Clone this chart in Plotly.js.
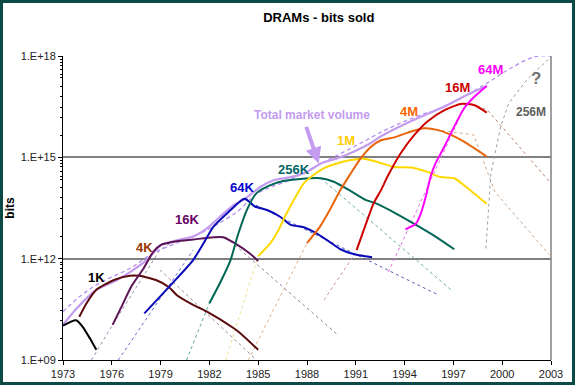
<!DOCTYPE html>
<html><head><meta charset="utf-8">
<script src="https://cdn.plot.ly/plotly-3.0.1.min.js"></script>
<style>
html,body{margin:0;padding:0;background:#fff;}
#frame{width:575px;height:385px;box-sizing:border-box;border:3px solid #0c4a46;background:#fff;}
#chart{width:569px;height:379px;}
</style></head>
<body><div id="frame"><div id="chart"></div></div>
<script>
// ---- data (years, bits sold) ----
const years1K  = [1973, 1973.8, 1974.2, 1974.65, 1975.05];
const bits1K   = [1.05e10, 1.5e10, 9.8e9, 4.4e9, 2.0e9];
const years4K  = [1974.0, 1974.45, 1975.05, 1976.1, 1977.1, 1977.7, 1978.75, 1979.5, 1980.0, 1981.0, 1981.85, 1983.5, 1983.9, 1985.0];
const bits4K   = [1.9e10, 4.8e10, 1.2e11, 2.3e11, 3.1e11, 3.1e11, 2.3e11, 1.45e11, 8.3e10, 4.3e10, 2.7e10, 8.7e9, 6.2e9, 2.0e9];
const years16K = [1976.05, 1976.6, 1977.2, 1977.95, 1978.55, 1979.05, 1980.0, 1981.0, 1982.25, 1982.85, 1983.7, 1984.5, 1985.0];
const bits16K  = [1.1e10, 3.8e10, 1.5e11, 5.1e11, 1.6e12, 2.6e12, 3.3e12, 3.7e12, 4.3e12, 4.3e12, 2.6e12, 1.4e12, 8.5e11];
const years64K = [1978.0, 1978.95, 1980.0, 1981.0, 1981.65, 1982.25, 1983.3, 1984.0, 1984.2, 1984.8, 1985.55, 1986.35, 1987.0, 1987.8, 1988.4, 1989.25, 1990.05, 1990.9, 1992.0];
const bits64K  = [2.4e10, 7.4e10, 2.6e11, 9.1e11, 2.9e12, 8.9e12, 2.75e13, 5.5e13, 5.9e13, 3.5e13, 2.75e13, 1.74e13, 1.0e13, 8.5e12, 6.3e12, 3.5e12, 1.9e12, 1.35e12, 1.1e12];
const years256K = [1982.0, 1982.65, 1983.3, 1983.75, 1984.3, 1984.9, 1985.75, 1986.55, 1987.6, 1988.85, 1989.65, 1990.6, 1991.6, 1992.2, 1993.45, 1994.7, 1995.9, 1997.05];
const bits256K  = [4.8e10, 1.9e11, 9.1e11, 5.0e12, 2.75e13, 8.7e13, 1.5e14, 2.0e14, 2.3e14, 2.4e14, 1.9e14, 1.07e14, 5.5e13, 4.4e13, 2.2e13, 1.0e13, 4.5e12, 1.9e12];
const years1M  = [1985.0, 1985.75, 1986.25, 1986.75, 1987.3, 1987.8, 1988.4, 1989.05, 1989.85, 1990.7, 1991.4, 1992.3, 1993.35, 1994.4, 1995.4, 1996.2, 1997.05, 1997.9, 1999.05];
const bits1M   = [1.2e12, 2.9e12, 7.1e12, 2.2e13, 6.8e13, 1.7e14, 3.0e14, 4.8e14, 6.6e14, 8.3e14, 9.3e14, 7.4e14, 5.2e14, 5.0e14, 3.7e14, 2.6e14, 2.4e14, 1.2e14, 4.2e13];
const years4M  = [1988.0, 1988.8, 1989.4, 1990.05, 1990.7, 1991.3, 1991.9, 1992.55, 1993.35, 1994.2, 1995.2, 1996.0, 1996.85, 1997.65, 1999.05];
const bits4M   = [2.9e12, 8.9e12, 2.75e13, 1.07e14, 3.4e14, 9.3e14, 2.0e15, 3.2e15, 3.9e15, 5.4e15, 7.2e15, 6.5e15, 4.6e15, 2.9e15, 1.05e15];
const years16M = [1991.05, 1991.6, 1992.1, 1992.55, 1992.95, 1993.75, 1994.6, 1995.4, 1996.45, 1997.45, 1998.3, 1999.05];
const bits16M  = [1.8e12, 1.0e13, 4.4e13, 1.07e14, 2.7e14, 1.3e15, 4.6e15, 1.15e16, 2.5e16, 3.8e16, 3.5e16, 2.1e16];
const years64M = [1994.05, 1994.7, 1995.0, 1995.3, 1995.6, 1995.9, 1996.45, 1997.05, 1997.65, 1998.3, 1999.05];
const bits64M  = [7.4e12, 1.1e13, 2.2e13, 6.8e13, 2.7e14, 6.6e14, 2.1e15, 8.1e15, 2.8e16, 6.3e16, 1.3e17];
const yearsTotal = [1973.0, 1973.85, 1975.05, 1976.3, 1977.3, 1978.15, 1979.05, 1980.0, 1981.0, 1981.85, 1982.65, 1983.5, 1984.1, 1985.15, 1985.95, 1987.0, 1988.0, 1988.85, 1989.85, 1990.9, 1991.9, 1992.55, 1994.35, 1996.45, 1997.85, 1999.05];
const bitsTotal  = [1.1e10, 3.4e10, 1.2e11, 2.3e11, 4.6e11, 9.1e11, 2.6e12, 3.5e12, 4.5e12, 7.9e12, 1.74e13, 3.9e13, 5.5e13, 1.35e14, 2.1e14, 2.6e14, 3.7e14, 6.6e14, 9.3e14, 1.5e15, 2.6e15, 4.2e15, 1.15e16, 3.2e16, 7.1e16, 1.3e17];
const yearsTrend = [1973.0, 1974.0, 1975.25, 1977.1, 1978.55, 1980.4, 1981.85, 1983.7, 1985.0, 1987.0, 1989.0, 1991.0, 1993.0, 1995.0, 1996.2, 1998.9, 2000.35, 2002.0, 2003.0];
const bitsTrend  = [2.7e10, 7.4e10, 1.9e11, 5.1e11, 1.45e12, 3.5e12, 7.1e12, 2.45e13, 8.9e13, 2.2e14, 7.1e14, 2.2e15, 7.1e15, 1.8e16, 2.8e16, 1.4e17, 3.9e17, 9.5e17, 1.0e18];

// model (dotted) curves
const modelNames = ['16K rise','64K rise','256K rise','1M rise','4M rise','16M rise','64M rise','4K decline','16K decline','64K decline','256K decline','4M decline','16M decline','256M'];
const modelYears = [
  [1974.75, 1976.05, 1978.95, 1979.9],
  [1976.4, 1978.0, 1981.0],
  [1980.6, 1982.0],
  [1983.0, 1985.0],
  [1984.4, 1988.0],
  [1989.05, 1991.1],
  [1993.0, 1995.6, 1997.5],
  [1978.95, 1984.9],
  [1983.0, 1989.9],
  [1984.2, 1996.1],
  [1988.85, 1996.85],
  [1995.2, 1998.25, 1999.55, 2002.9],
  [1998.1, 1999.1, 2003.0],
  [1999.0, 1999.3, 1999.9, 2000.4, 2001.6, 2003.0]
];
const modelBits = [
  [1e9, 1.1e10, 1.8e12, 3.5e12],
  [1e9, 1.35e10, 1.8e12],
  [1e9, 4.9e10],
  [1e9, 1.2e12],
  [1e9, 2.9e12],
  [6.0e10, 1.8e12],
  [4.0e11, 2.0e14, 2.0e16],
  [4.7e11, 1e9],
  [4.4e12, 5.5e9],
  [5.5e13, 8.3e10],
  [2.4e14, 1.2e11],
  [7.4e15, 4.6e15, 9.5e13, 1.3e12],
  [3.8e16, 2.5e16, 1.7e14],
  [2.0e12, 3.2e14, 7.9e15, 4.0e16, 2.2e17, 9.3e17]
];
const modelColors = ['#9a8fb5','#6a6ad0','#5fa8a0','#eee08a','#d8b090','#d090a8','#e070e0','#a09090','#9a80a0','#5a5ac0','#6aa8a8','#d0a888','#c08070','#a0a0a0'];

const xTicks = [1973, 1976, 1979, 1982, 1985, 1988, 1991, 1994, 1997, 2000, 2003];
const yTicks = [1e9, 1e12, 1e15, 1e18];
const yTickText = ['1.E+09', '1.E+12', '1.E+15', '1.E+18'];

// ---- build ----
const traces = [];
modelYears.forEach((yy, i) => {
  traces.push({x: yy, y: modelBits[i], mode: 'lines', name: modelNames[i],
    line: {color: modelColors[i], width: 1, dash: 'dot'}, hoverinfo: 'skip'});
});
traces.push({x: yearsTrend, y: bitsTrend, mode: 'lines', name: 'trend',
  line: {color: '#b48ef0', width: 1.3, dash: '4px,3px', shape: 'spline'}});
const gens = [
  ['1K', years1K, bits1K, '#000000'],
  ['4K', years4K, bits4K, '#5a0a0a'],
  ['16K', years16K, bits16K, '#5c1456'],
  ['64K', years64K, bits64K, '#0a0ab8'],
  ['256K', years256K, bits256K, '#006655'],
  ['1M', years1M, bits1M, '#ffd800'],
  ['4M', years4M, bits4M, '#e8650a'],
  ['16M', years16M, bits16M, '#cc0000'],
  ['64M', years64M, bits64M, '#ff00ff']
];
traces.push({x: yearsTotal, y: bitsTotal, mode: 'lines', name: 'Total',
  line: {color: '#c39bef', width: 2.2, shape: 'spline', smoothing: 0.6}});
gens.forEach(g => traces.push({x: g[1], y: g[2], mode: 'lines', name: g[0],
  line: {color: g[3], width: 2, shape: 'spline', smoothing: 0.6}}));

const minorMult = [4.4, 15, 30, 65, 126, 224, 275, 389, 525, 661, 794];
const minorVals = [];
[1e9, 1e12, 1e15].forEach(b => minorMult.forEach(m => minorVals.push(b * m)));

const lab = (text, x, y, color, size) => ({text: '<b>' + text + '</b>', x: x, y: y, xref: 'x', yref: 'y',
  showarrow: false, font: {family: 'Arial, Liberation Sans, sans-serif', size: size || 13, color: color}});

const layout = {
  width: 569, height: 379,
  margin: {l: 60, r: 21, t: 53, b: 22},
  paper_bgcolor: '#ffffff', plot_bgcolor: '#ffffff',
  showlegend: false,
  font: {family: 'Arial, Liberation Sans, sans-serif', size: 11, color: '#222'},
  title: {text: '<b>DRAMs - bits sold</b>', x: 0.555, xanchor: 'center', y: 0.962, yanchor: 'middle',
    font: {size: 13, color: '#000'}},
  xaxis: {range: [1973, 2003], tickmode: 'array', tickvals: xTicks, ticks: 'outside', ticklen: 4,
    tickcolor: '#000', showline: true, linecolor: '#000', linewidth: 1, showgrid: false, zeroline: false,
    tickfont: {size: 11, color: '#222'}},
  yaxis: {type: 'log', range: [9, 18], tickmode: 'array', tickvals: yTicks, ticktext: yTickText,
    ticks: 'outside', ticklen: 4, tickcolor: '#000', showline: true, linecolor: '#000', linewidth: 1,
    showgrid: true, gridcolor: '#808080', gridwidth: 2, zeroline: false,
    tickfont: {size: 11, color: '#222'},
    minor: {tickmode: 'array', tickvals: minorVals, ticks: 'outside', ticklen: 2, tickcolor: '#000', showgrid: false},
    title: {text: '<b>bits</b>', standoff: 8, font: {size: 12, color: '#000'}}},
  shapes: [
    {type: 'line', xref: 'paper', yref: 'paper', x0: 1, x1: 1, y0: 0, y1: 1,
      line: {color: '#808080', width: 1.5}},
    {type: 'line', xref: 'paper', yref: 'paper', x0: 0, x1: 1, y0: 2/3, y1: 2/3, layer: 'below',
      line: {color: '#111111', width: 1.2}}
  ],
  annotations: [
    lab('1K', 1975.06, 11.44, '#000000'),
    lab('4K', 1978.04, 12.34, '#993300'),
    lab('16K', 1980.61, 13.15, '#660066'),
    lab('64K', 1984.02, 14.12, '#0000cc'),
    lab('256K', 1987.18, 14.65, '#006666'),
    lab('1M', 1990.41, 15.51, '#ffcc00'),
    lab('4M', 1994.27, 16.35, '#ff6600'),
    lab('16M', 1997.25, 17.07, '#cc0000'),
    lab('64M', 1999.31, 17.59, '#ff00ff'),
    lab('256M', 2001.77, 16.35, '#606060', 12),
    lab('?', 2002.08, 17.34, '#707070', 17),
    lab('Total market volume', 1988.31, 16.25, '#c39bef', 12),
    {text: '', x: 1988.72, y: 14.82, xref: 'x', yref: 'y', showarrow: true, ax: -13, ay: -38,
      arrowcolor: '#c39bef', arrowwidth: 4, arrowhead: 2, arrowsize: 0.8, standoff: 0}
  ]
};
Plotly.newPlot('chart', traces, layout, {displayModeBar: false, staticPlot: true});
</script></body></html>
